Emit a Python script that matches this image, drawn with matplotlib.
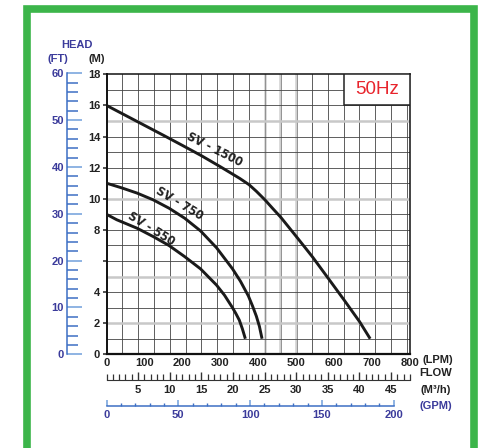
import matplotlib
matplotlib.use('Agg')
import matplotlib.pyplot as plt
from matplotlib.patches import Rectangle
from matplotlib.ticker import MultipleLocator, FixedLocator
from matplotlib import font_manager

W, H = 488, 448

# pump curves: flow in LPM, head in metres
lpm_1500 = [0, 100, 150, 200, 250, 300, 351, 376, 395, 418, 439, 459, 501, 543, 584, 626, 667, 695]
head_1500 = [16.0, 14.72, 14.08, 13.43, 12.77, 12.06, 11.31, 10.9, 10.48, 9.92, 9.35, 8.82,
             7.55, 6.26, 4.9, 3.5, 2.1, 1.0]

lpm_750 = [0, 40, 81, 123, 165, 206, 248, 290, 332, 353, 374, 385, 395, 403, 410]
head_750 = [11.0, 10.7, 10.36, 9.93, 9.39, 8.75, 7.93, 6.85, 5.5, 4.7, 3.75, 3.1, 2.45, 1.8, 1.0]

lpm_550 = [0, 27, 81, 123, 165, 206, 248, 290, 311, 332, 341, 350, 358, 366]
head_550 = [9.0, 8.65, 8.1, 7.57, 6.99, 6.28, 5.49, 4.45, 3.8, 3.0, 2.62, 2.2, 1.65, 1.0]

curve_names = ['SV - 1500', 'SV - 750', 'SV - 550']
label_pos = [(285, 13.13), (193, 9.66), (119, 8.05)]
label_rot = [-27, -31, -32]

lpm_ticks = [0, 100, 200, 300, 400, 500, 600, 700, 800]
m_ticks = [0, 2, 4, 6, 8, 10, 12, 14, 16, 18]
m_labels = ['0', '2', '4', '', '8', '10', '12', '14', '16', '18']
ft_ticks = [0, 10, 20, 30, 40, 50, 60]
m3h_ticks = [5, 10, 15, 20, 25, 30, 35, 40, 45]
gpm_ticks = [0, 50, 100, 150, 200]
gray_h = [2, 5, 10, 15]        # light grey rows (m)
gray_v = [25, 27.5, 30]        # light grey columns (m3/h)

DARK = '#222222'
PURPLE = '#3b3b9b'
BLUE = '#3d6fc4'
LBLUE = '#86aee0'
GREEN = '#3cb54a'

names = {f.name for f in font_manager.fontManager.ttflist}
if 'Liberation Sans Narrow' in names:
    label_font = dict(family='Liberation Sans Narrow', fontsize=10)
else:
    label_font = dict(family='DejaVu Sans', stretch='condensed', fontsize=9)

def fx(px):
    return px / W

def fy(py):
    return 1 - py / H

fig = plt.figure(figsize=(4.88, 4.48), dpi=100)
plt.rcParams['font.family'] = ['Liberation Sans', 'DejaVu Sans']

x0, x1, y0, y1 = 106.5, 410, 354.3, 74.3
ax = fig.add_axes([fx(x0), fy(y0), (x1 - x0) / W, (y0 - y1) / H])
ax.set_xlim(0, 800)
ax.set_ylim(0, 18)

# grid: columns every 2.5 m3/h, rows every 1 m
step = 2.5 * 1000 / 60
for i in range(1, 20):
    v = i * step
    if i * 2.5 in gray_v:
        ax.axvline(v, color='#d0d0d0', lw=1.8, zorder=1)
        ax.axvline(v + 1.5, color='#777777', lw=0.5, zorder=1)
    else:
        ax.axvline(v, color='#444444', lw=0.6, zorder=1)
for m in range(1, 18):
    if m in gray_h:
        ax.axhline(m, color='#c8c8c8', lw=1.8, zorder=1)
    else:
        ax.axhline(m, color='#444444', lw=0.6, zorder=1)

for xs, ys in [(lpm_1500, head_1500), (lpm_750, head_750), (lpm_550, head_550)]:
    ax.plot(xs, ys, color='#1a1a1a', lw=2.1, solid_capstyle='butt',
            solid_joinstyle='round', zorder=3)

for name, (lx, ly), rot in zip(curve_names, label_pos, label_rot):
    ax.text(lx, ly, name, rotation=rot, ha='center', va='center',
            fontweight='bold', color=DARK, zorder=4, **label_font)

ax.add_patch(Rectangle((625, 16), 175, 2, facecolor='white', edgecolor='#222222',
                       lw=1.1, zorder=5))
ax.text(712.5, 17, '50Hz', ha='center', va='center', fontsize=13.5,
        color='#e8242c', zorder=6)

for s in ax.spines.values():
    s.set_color('#111111')
    s.set_linewidth(1.1)
ax.spines['left'].set_linewidth(1.4)
ax.spines['bottom'].set_linewidth(1.6)
ax.set_yticks(m_ticks)
ax.set_yticklabels(m_labels)
ax.set_xticks(lpm_ticks)
ax.tick_params(axis='y', length=3, width=1.1, pad=1.5, labelsize=8, colors=DARK)
ax.tick_params(axis='x', length=0, pad=2.5, labelsize=8, colors=DARK)
for t in ax.get_xticklabels() + ax.get_yticklabels():
    t.set_fontweight('bold')

# m3/h scale
ax_m3 = fig.add_axes([fx(x0), fy(380), (x1 - x0) / W, 0.0001])
ax_m3.set_xlim(0, 48)
ax_m3.set_yticks([])
ax_m3.patch.set_visible(False)
for k in ['top', 'left', 'right']:
    ax_m3.spines[k].set_visible(False)
ax_m3.spines['bottom'].set_color('#333333')
ax_m3.spines['bottom'].set_linewidth(0.8)
ax_m3.xaxis.set_major_locator(FixedLocator(m3h_ticks))
ax_m3.xaxis.set_minor_locator(MultipleLocator(1))
ax_m3.tick_params(axis='x', which='major', direction='in', length=6, width=1.0,
                  colors='#333333', pad=3.5, labelsize=8)
ax_m3.tick_params(axis='x', which='minor', direction='in', length=4, width=0.9,
                  colors='#333333')
for t in ax_m3.get_xticklabels():
    t.set_fontweight('bold')
    t.set_color(DARK)

# GPM scale
ax_g = fig.add_axes([fx(x0), fy(405.7), (x1 - x0) / W, 0.0001])
ax_g.set_xlim(0, 800 / 3.785)
ax_g.set_yticks([])
ax_g.patch.set_visible(False)
for k in ['top', 'left', 'right']:
    ax_g.spines[k].set_visible(False)
ax_g.spines['bottom'].set_color(BLUE)
ax_g.spines['bottom'].set_linewidth(1.1)
ax_g.spines['bottom'].set_bounds(0, 200)
ax_g.xaxis.set_major_locator(FixedLocator(gpm_ticks))
ax_g.xaxis.set_minor_locator(FixedLocator([v for v in range(10, 200, 10) if v % 50]))
ax_g.tick_params(axis='x', which='major', direction='in', length=4.5, width=1.3,
                 colors=LBLUE, pad=2.8, labelsize=8)
ax_g.tick_params(axis='x', which='minor', direction='in', length=2.5, width=1.0,
                 colors=BLUE)
for t in ax_g.get_xticklabels():
    t.set_fontweight('bold')
    t.set_color(PURPLE)

# feet scale
ax_ft = fig.add_axes([fx(66.7), fy(354.3), 0.0001, (354.3 - 73.3) / H])
ax_ft.set_ylim(0, 60)
ax_ft.set_xticks([])
ax_ft.patch.set_visible(False)
for k in ['top', 'bottom', 'right']:
    ax_ft.spines[k].set_visible(False)
ax_ft.spines['left'].set_color(BLUE)
ax_ft.spines['left'].set_linewidth(1.1)
ax_ft.yaxis.set_major_locator(FixedLocator(ft_ticks))
ax_ft.yaxis.set_minor_locator(MultipleLocator(2))
ax_ft.tick_params(axis='y', which='major', direction='in', length=10.5, width=1.3,
                  colors=LBLUE, pad=2, labelsize=8)
ax_ft.tick_params(axis='y', which='minor', direction='in', length=8, width=1.1,
                  colors=BLUE)
for t in ax_ft.get_yticklabels():
    t.set_fontweight('bold')
    t.set_color(PURPLE)

# headings and unit labels
fig.text(fx(77), fy(45), 'HEAD', ha='center', va='center', fontsize=8,
         fontweight='bold', color=PURPLE)
fig.text(fx(58), fy(58.5), '(FT)', ha='center', va='center', fontsize=8,
         fontweight='bold', color=PURPLE)
fig.text(fx(97), fy(59), '(M)', ha='center', va='center', fontsize=8,
         fontweight='bold', color=DARK)
fig.text(fx(438), fy(360), '(LPM)', ha='center', va='center', fontsize=8,
         fontweight='bold', color=DARK)
fig.text(fx(436), fy(373), 'FLOW', ha='center', va='center', fontsize=8,
         fontweight='bold', color=DARK)
fig.text(fx(436), fy(389.5), '(M³/h)', ha='center', va='center', fontsize=8,
         fontweight='bold', color=DARK)
fig.text(fx(436), fy(406), '(GPM)', ha='center', va='center', fontsize=8,
         fontweight='bold', color=PURPLE)

# green frame
fig.patches.append(Rectangle((fx(27.2), fy(450.5)), (473.5 - 27.2) / W, (450.5 - 8.5) / H,
                             transform=fig.transFigure, fill=False, ec=GREEN, lw=5.5))

fig.savefig('out.png', dpi=100)
